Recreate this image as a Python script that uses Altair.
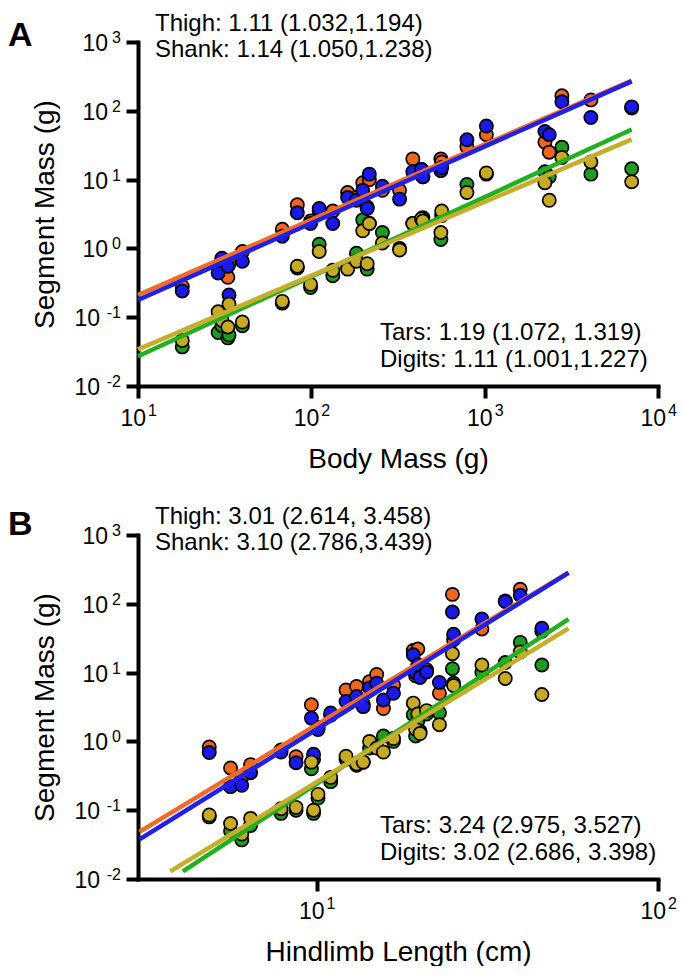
import altair as alt
import pandas as pd

FONT = "Liberation Sans"
SEGS = ["Thigh", "Shank", "Tars", "Digits"]
PT_COL = ["#F0661F", "#1A1AE8", "#1E9C22", "#C8AA22"]
LN_COL = ["#F06A28", "#2020E8", "#22B022", "#C4AE2C"]

# ---------------- Panel A: body mass (g) vs segment mass (g)
A_mass   = [18, 29, 30.5, 33, 33.5, 40, 68, 83, 99, 111, 133, 162, 182, 198, 210, 216, 257, 323,
            385, 432, 440, 559, 565, 790, 1023, 2226, 2358, 2790, 4100, 7050]
A_thigh  = [0.28, 0.55, 0.7, 0.38, 0.6, 0.9, 1.9, 4.3, 2.5, 3.5, 3.5, 6.5, 5.5, 9, 4, 10, 7, 7,
            20, 14, 11, 20, 18, 30, 45, 35, 25, 165, 144, 110]
A_shank  = [0.24, 0.44, 0.72, 0.55, 0.21, 0.65, 1.5, 3.3, 2.3, 3.8, 2.3, 5.5, 5.0, 7, 3.8, 12, 8, 5.2,
            13, 14, 11, 13.5, 15, 38, 60, 50, 45, 135, 80, 114]
A_tars   = [0.037, 0.06, 0.075, 0.05, 0.055, 0.075, 0.16, 0.52, 0.27, 1.15, 0.4, 0.55, 0.85, 2.6, 0.5, 2.3, 1.7, 1.0,
            2.3, 2.5, 2.8, 1.35, 3.0, 8.5, 12, 13, 11, 29.5, 12, 14.4]
A_digits = [0.046, 0.12, 0.09, 0.072, 0.155, 0.085, 0.17, 0.55, 0.3, 0.9, 0.48, 0.5, 0.65, 1.8, 0.6, 2.3, 1.2, 0.95,
            2.3, 2.7, 2.5, 1.7, 3.5, 6.5, 12.5, 9, 5, 21, 18, 9.3]

A_fit_x = {"Thigh": [10, 7050], "Shank": [10, 7050], "Tars": [10, 7050], "Digits": [10, 7050]}
A_fit_y = {"Thigh": [0.21, 275], "Shank": [0.178, 268], "Tars": [0.027, 53.5], "Digits": [0.034, 38.5]}

A_notes_top = ["Thigh: 1.11 (1.032,1.194)", "Shank: 1.14 (1.050,1.238)"]
A_notes_bot = ["Tars: 1.19 (1.072, 1.319)", "Digits: 1.11 (1.001,1.227)"]
A_XTICKS = [10, 100, 1000, 10000]
A_XEXP = ["1", "2", "3", "4"]

# ---------------- Panel B: hindlimb length (cm) vs segment mass (g)
B_len    = [4.85, 5.6, 6.04, 6.41, 7.87, 8.71, 9.66, 9.8, 10.1, 11.0, 12.2, 13.1, 13.7, 14.3, 15.0, 15.7,
            16.8, 19.2, 19.5, 19.8, 20.1, 21.0, 22.9, 25.0, 25.2, 30.5, 35.7, 39.5, 45.7]
B_thigh  = [0.83, 0.41, 0.3, 0.46, 0.75, 0.6, 3.4, 0.55, 1.6, 2.4, 5.6, 6.3, 3.5, 7.4, 9.4, 3.0,
            6.6, 21, 9, 22, 9, 11, 5.0, 137, 30, 43, 110, 163, 40]
B_shank  = [0.69, 0.22, 0.23, 0.35, 0.7, 0.49, 2.18, 0.65, 1.49, 2.58, 3.8, 4.5, 3.2, 6.0, 7.0, 4.0,
            5.0, 18.2, 10, 13, 8.5, 10.2, 7.2, 76, 36, 60, 108, 133, 44]
B_tars   = [0.08, 0.05, 0.037, 0.06, 0.09, 0.1, 0.4, 0.09, 0.15, 0.26, 0.55, 0.45, 0.5, 0.8, 0.85, 1.2,
            1.0, 2.44, 1.2, 2.0, 1.4, 2.5, 2.6, 11.4, 7, 10, 14, 27.5, 12.9]
B_digits = [0.085, 0.064, 0.045, 0.076, 0.105, 0.11, 0.5, 0.1, 0.17, 0.3, 0.61, 0.47, 0.5, 1.0, 0.8, 0.7,
            1.1, 3.6, 1.5, 2.5, 1.3, 2.8, 1.75, 18.8, 6.5, 12.9, 8.2, 20, 4.8]

B_fit_x = {"Thigh": [3.03, 54.7], "Shank": [3.03, 54.7], "Tars": [4.06, 54.7], "Digits": [3.73, 54.7]}
B_fit_y = {"Thigh": [0.0485, 285], "Shank": [0.0376, 282], "Tars": [0.0129, 60], "Digits": [0.0129, 44]}

B_notes_top = ["Thigh: 3.01 (2.614, 3.458)", "Shank: 3.10 (2.786,3.439)"]
B_notes_bot = ["Tars: 3.24 (2.975, 3.527)", "Digits: 3.02 (2.686, 3.398)"]
B_XTICKS = [10, 100]
B_XEXP = ["1", "2"]

Y_TICKS = [0.01, 0.1, 1, 10, 100, 1000]
Y_EXP = ["-2", "-1", "0", "1", "2", "3"]

W = 520
LBL = 23     # tick label "10"
SUPS = 16    # exponent size
NOTE = 24


def axis(values, title, orient, h):
    kw = dict(values=values, labels=False, title=title, grid=False,
              domainWidth=4, domainColor="black", domainCap="square",
              tickWidth=4, tickColor="black", tickSize=12,
              titleFontSize=28, titleFont=FONT, titleFontWeight="normal", titleColor="black",
              titleBaseline="middle", titleAlign="center")
    if orient == "y":
        kw.update(titleX=-93, titleY=h / 2, titleAngle=270)
    else:
        kw.update(titleX=W / 2, titleY=73)
    return alt.Axis(**kw)


def panel(xs, cols, fit_x, fit_y, xdom, xticks, xexp, xtitle, notes_top, notes_bot, letter, letter_y, h):
    rows = []
    for seg in ["Thigh", "Tars", "Shank", "Digits"]:
        for xv, yv in zip(xs, cols[seg]):
            rows.append({"x": xv, "y": yv, "seg": seg})
    pts = pd.DataFrame(rows)

    xsc = alt.Scale(type="log", domain=xdom, nice=False)
    ysc = alt.Scale(type="log", domain=[0.01, 1000], nice=False)
    xax = axis(xticks, xtitle, "x", h)
    yax = axis(Y_TICKS, "Segment Mass (g)", "y", h)

    base_pts = alt.Chart(pts).mark_point(
        shape="circle", filled=True, size=175, stroke="black", strokeWidth=1.7, opacity=1
    ).encode(
        x=alt.X("x:Q", scale=xsc, axis=xax),
        y=alt.Y("y:Q", scale=ysc, axis=yax),
        fill=alt.Fill("seg:N", scale=alt.Scale(domain=SEGS, range=PT_COL), legend=None),
    )

    layers = [base_pts]
    for seg, col in zip(SEGS, LN_COL):
        d = pd.DataFrame({"x": fit_x[seg], "y": fit_y[seg]})
        layers.append(
            alt.Chart(d).mark_line(color=col, strokeWidth=4.5).encode(
                x=alt.X("x:Q", scale=xsc, axis=xax), y=alt.Y("y:Q", scale=ysc, axis=yax)
            )
        )

    # y tick labels: "10" + superscript exponent
    ydf = pd.DataFrame({"v": Y_TICKS, "e": Y_EXP})
    yneg = ydf[ydf["e"].str.startswith("-")]
    ypos = ydf[~ydf["e"].str.startswith("-")]
    lab = dict(baseline="alphabetic", font=FONT, color="black")
    layers.append(alt.Chart(yneg).mark_text(text="10", align="right", fontSize=LBL, dx=-38, dy=9, **lab)
                  .encode(x=alt.value(0), y=alt.Y("v:Q", scale=ysc, axis=yax)))
    layers.append(alt.Chart(ypos).mark_text(text="10", align="right", fontSize=LBL, dx=-30, dy=9, **lab)
                  .encode(x=alt.value(0), y=alt.Y("v:Q", scale=ysc, axis=yax)))
    layers.append(alt.Chart(ydf).mark_text(align="right", fontSize=SUPS, dx=-17, dy=1, **lab)
                  .encode(x=alt.value(0), y=alt.Y("v:Q", scale=ysc, axis=yax), text="e:N"))

    # x tick labels
    xdf = pd.DataFrame({"v": xticks, "e": xexp})
    layers.append(alt.Chart(xdf).mark_text(text="10", align="right", fontSize=LBL, dx=8, dy=40, **lab)
                  .encode(x=alt.X("v:Q", scale=xsc, axis=xax), y=alt.value(h)))
    layers.append(alt.Chart(xdf).mark_text(align="left", fontSize=SUPS, dx=10, dy=30, **lab)
                  .encode(x=alt.X("v:Q", scale=xsc, axis=xax), y=alt.value(h), text="e:N"))

    def txt(s, x, y, size=NOTE, weight="normal"):
        return alt.Chart(pd.DataFrame({"t": [s]})).mark_text(
            align="left", baseline="alphabetic", font=FONT, fontSize=size,
            fontWeight=weight, color="black"
        ).encode(x=alt.value(x), y=alt.value(y), text="t:N")

    layers.append(txt(notes_top[0], 17, -11))
    layers.append(txt(notes_top[1], 17, 15))
    layers.append(txt(notes_bot[0], 242, h - 46))
    layers.append(txt(notes_bot[1], 242, h - 19))
    layers.append(txt(letter, -130, letter_y, size=34, weight="bold"))

    return alt.layer(*layers).properties(
        width=W, height=h, view=alt.ViewBackground(stroke="transparent", strokeWidth=0)
    )


A = panel(A_mass, {"Thigh": A_thigh, "Shank": A_shank, "Tars": A_tars, "Digits": A_digits},
          A_fit_x, A_fit_y, [10, 10000], A_XTICKS, A_XEXP, "Body Mass (g)",
          A_notes_top, A_notes_bot, "A", 4, 344)
B = panel(B_len, {"Thigh": B_thigh, "Shank": B_shank, "Tars": B_tars, "Digits": B_digits},
          B_fit_x, B_fit_y, [3, 100], B_XTICKS, B_XEXP, "Hindlimb Length (cm)",
          B_notes_top, B_notes_bot, "B", 0, 344)

chart = (alt.vconcat(A, B, spacing=32)
         .properties(padding={"top": 4, "left": 0, "right": 0, "bottom": 0})
         .configure_view(stroke="transparent", strokeWidth=0)
         .configure(background="white"))

chart.save("out.html", embed_options={"renderer": "svg", "actions": False})
